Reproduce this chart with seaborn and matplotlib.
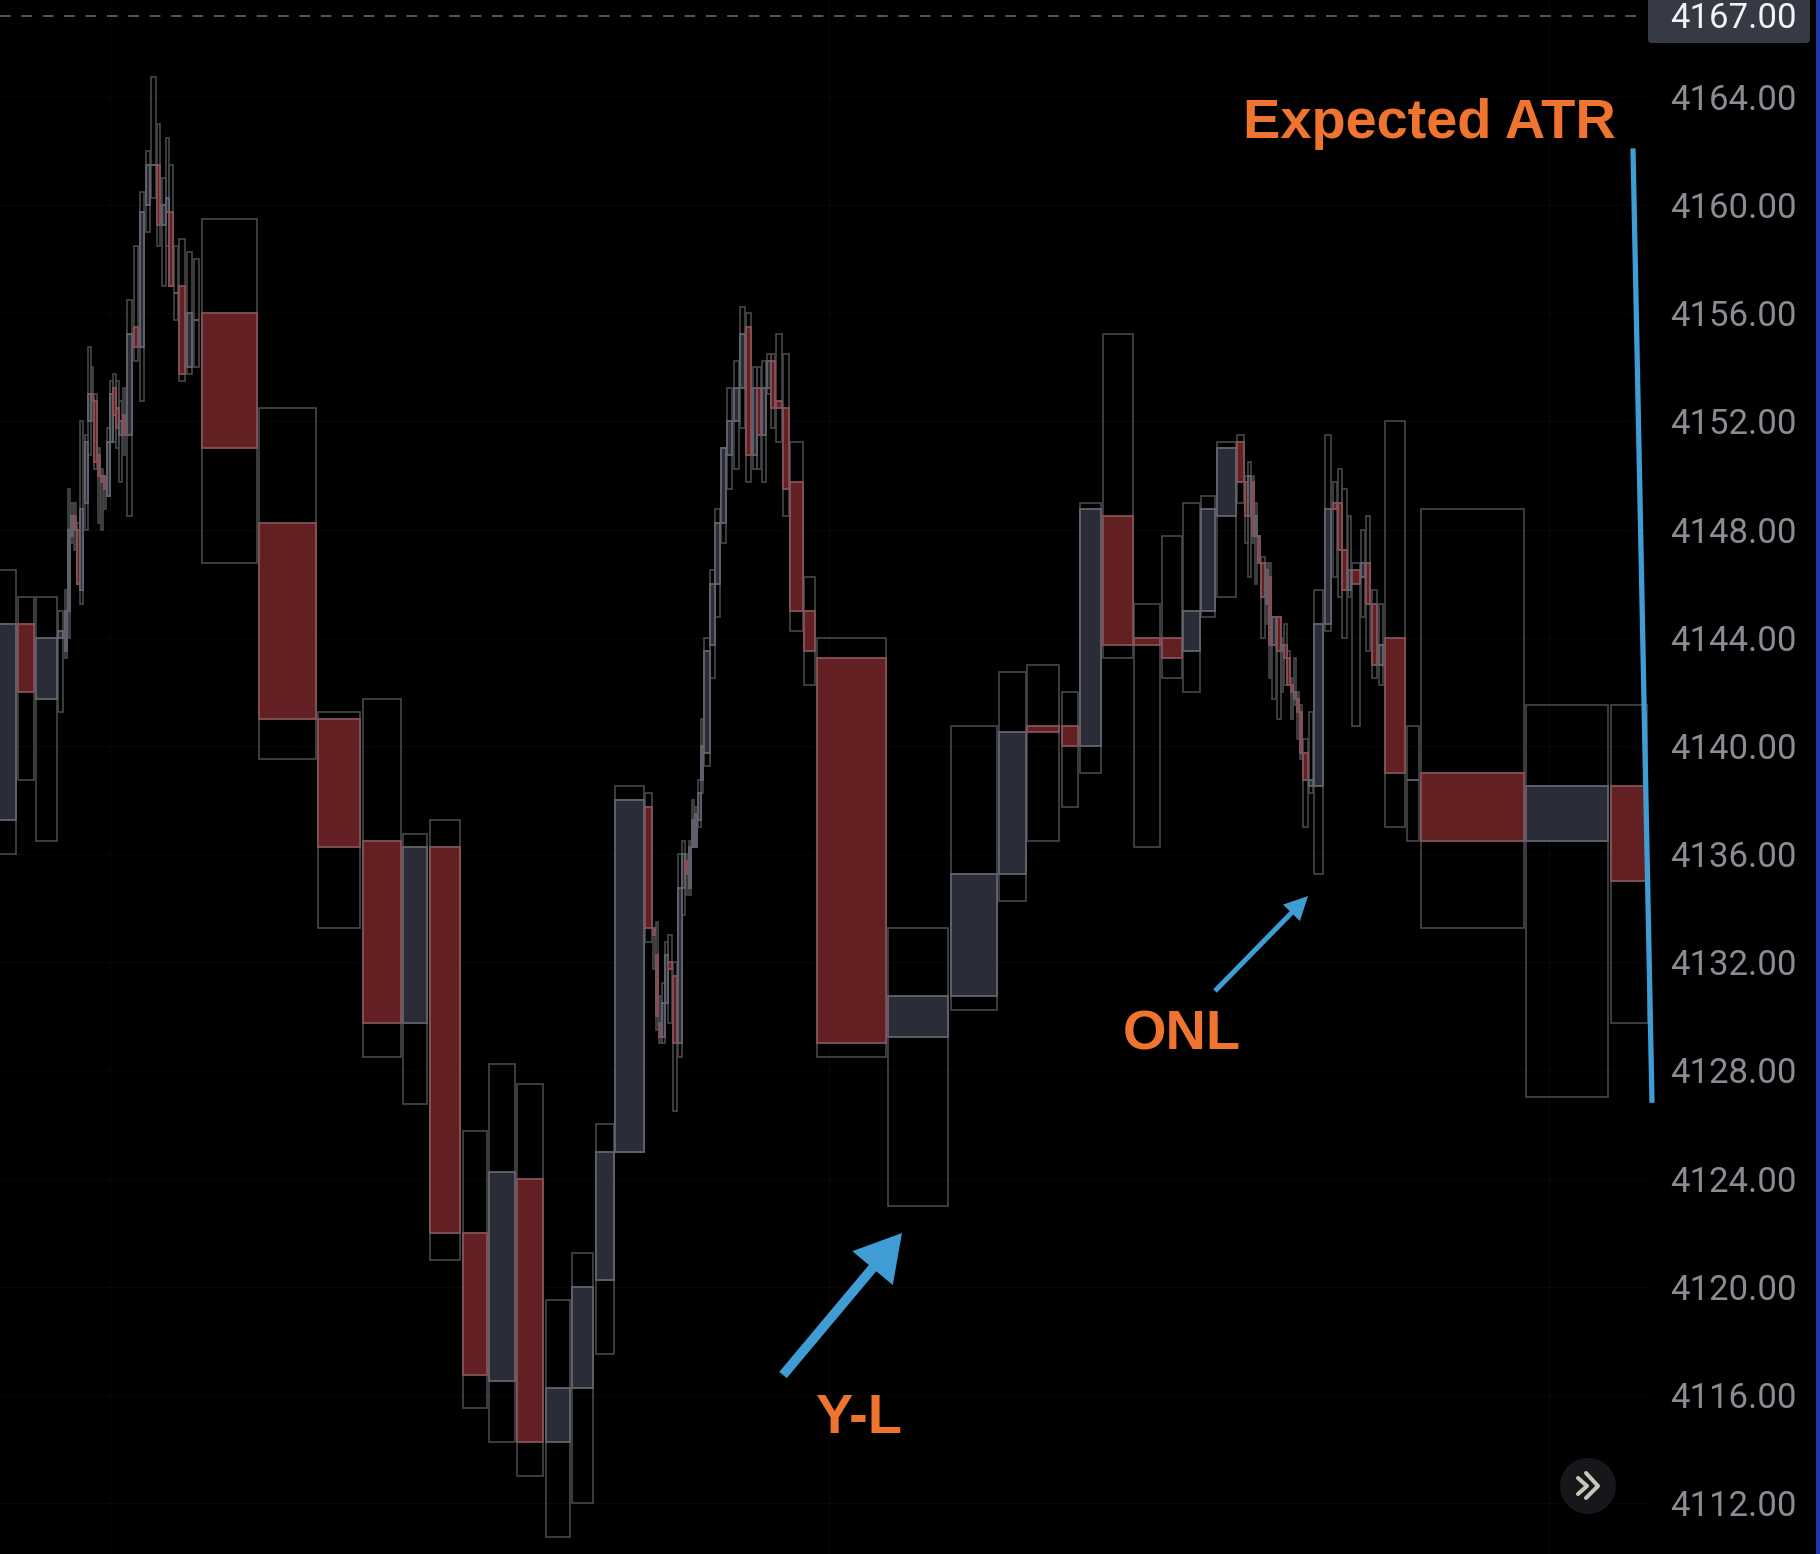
#!/usr/bin/env python
"""
plot.py - volume candle chart of the ES session with ATR / Y-L / ONL notes
usage: python3 plot.py
"""
import matplotlib
matplotlib.use("Agg")
import matplotlib.pyplot as plt
from matplotlib.patches import Circle, FancyArrowPatch, FancyBboxPatch, Rectangle
import numpy as np
import pandas as pd
import seaborn as sns

# Each candle starts at a cumulative volume and is as wide as its own volume
vol_start = [
    -2, 18.3, 35.7, 58.3, 65, 68, 71, 73.7, 77, 80,
    84.7, 88, 90.7, 93.7, 98, 101, 104, 107, 110.3, 113,
    116, 119, 123, 126.7, 134.3, 140.3, 145.7, 151.3, 157, 162,
    166, 169, 174, 179.3, 187.3, 193.7, 201.7, 259.5, 318.3, 362.7,
    402.7, 429.7, 462.7, 488.7, 517.3, 545.7, 571.7, 595.7, 615.3, 645.3,
    653, 656, 659, 662, 665.3, 668, 673, 678, 682, 685,
    689, 692.3, 695, 698.3, 701, 704.3, 710.3, 715.3, 721.3, 726.7,
    734.3, 740.3, 746.3, 753, 757, 762, 767, 771, 776.3, 782.7,
    790.3, 804.3, 817.3, 887.7, 950.7, 998.7, 1026.7, 1061.7, 1080.3, 1103.3,
    1134.3, 1161.7, 1183.3, 1201.3, 1216.7, 1237.3, 1245.3, 1248, 1252, 1255.3,
    1258, 1261, 1266, 1269, 1272.3, 1277, 1281, 1284, 1287, 1291,
    1294, 1297, 1300, 1303.3, 1309.3, 1314.3, 1325.3, 1333, 1337.7, 1342,
    1348, 1352.3, 1361, 1366, 1372, 1378.7, 1384.7, 1406.7, 1420.7, 1525.7,
    1610.7,
]
volume = [
    18.3, 15.4, 21.6, 5, 2, 2, 2.3, 2.3, 2.7, 3.3,
    3, 2.7, 2.6, 3, 1.7, 1.7, 2, 3, 2.4, 2.7,
    2.7, 2.7, 2, 5.6, 4, 4, 4, 4.4, 3.3, 3.7,
    2.7, 4.3, 3.7, 6, 4.4, 5.6, 55.6, 56.5, 41.7, 38.6,
    24.6, 30.6, 24.6, 26.6, 26, 24.6, 21.6, 18.6, 28.4, 6.4,
    2, 1.7, 1.7, 2.7, 2.4, 3.7, 3.7, 3.7, 2.7, 2.3,
    1.7, 1.7, 2, 2.4, 2.3, 5.4, 4.4, 5, 4.4, 5.6,
    4.7, 5, 5, 3.7, 4.3, 3.7, 3.7, 4.3, 5.4, 6.3,
    12.7, 11, 69, 60.6, 46.6, 27, 32.6, 16.6, 21, 30,
    25.4, 20, 16.7, 13.4, 19.3, 6.7, 2.4, 3, 1.7, 1.7,
    2, 3.7, 2, 1.7, 3.7, 3.7, 2, 2.7, 2.7, 1.7,
    1.7, 1.7, 2.3, 5, 3.7, 9, 6, 3.7, 4, 5.3,
    2.7, 7.4, 3.7, 4.3, 5.3, 4.6, 20.6, 12.6, 103.6, 82.6,
    37,
]
high = [
    4146.5, 4145.5, 4145.5, 4145, 4145.75, 4149.5, 4149, 4149, 4148.25, 4152,
    4151.5, 4154.75, 4154, 4153, 4151, 4150.25, 4150, 4151.75, 4153.5, 4153.75,
    4153.5, 4152.75, 4153.25, 4156.5, 4158.5, 4160.5, 4162, 4164.75, 4163, 4161,
    4162.5, 4161.5, 4158.5, 4158.75, 4158.25, 4158, 4159.5, 4152.5, 4141.25, 4141.75,
    4136.75, 4137.25, 4125.75, 4128.25, 4127.5, 4119.5, 4121.25, 4126, 4138.5, 4138.25,
    4133.25, 4133.5, 4130.75, 4131.25, 4132.75, 4133, 4132, 4136, 4136.5, 4136,
    4136.5, 4138, 4137.75, 4138.75, 4141, 4144, 4146.5, 4148.75, 4151, 4153.25,
    4154.25, 4156.25, 4156, 4154, 4154, 4154.25, 4154.5, 4154.5, 4155.25, 4154.5,
    4151.25, 4146.25, 4144, 4133.25, 4140.75, 4142.75, 4143, 4142, 4149, 4155.25,
    4145.25, 4147.75, 4149, 4149.25, 4151.25, 4151.5, 4150, 4150.5, 4150, 4149,
    4147.75, 4147, 4146.75, 4146.75, 4144.75, 4144.75, 4144, 4144.5, 4143.5, 4142.5,
    4143.25, 4142, 4141.5, 4140.25, 4141.25, 4145.75, 4151.5, 4149.75, 4150.25, 4149.5,
    4148.5, 4146.75, 4148, 4148.5, 4145.75, 4145.25, 4152, 4140.75, 4148.75, 4141.5,
    4141.5,
]
body_top = [
    4144.5, 4144.5, 4144, 4144.25, 4145, 4148, 4148.5, 4148.5, 4148, 4148.75,
    4151.25, 4153, 4153, 4152.75, 4150.75, 4150, 4150, 4151.25, 4153, 4153.25,
    4152.5, 4152, 4152.25, 4155.25, 4155.5, 4159.75, 4161.5, 4161.5, 4161.5, 4160,
    4160.25, 4159.75, 4156.75, 4157, 4156, 4155.75, 4156, 4148.25, 4141, 4136.5,
    4136.25, 4136.25, 4122, 4124.25, 4124, 4116.25, 4120, 4125, 4138, 4137.75,
    4133.25, 4132.25, 4129.75, 4130.5, 4132.25, 4132, 4131.5, 4134.75, 4136, 4135.75,
    4136.25, 4137.25, 4137.5, 4138.25, 4140, 4143.5, 4146, 4148.25, 4151, 4152,
    4153.25, 4155.25, 4155.5, 4153.25, 4153.25, 4153.25, 4154.25, 4154.25, 4152.75, 4152.5,
    4149.75, 4145, 4143.25, 4130.75, 4135.25, 4140.5, 4140.75, 4140.75, 4148.75, 4148.5,
    4144, 4144, 4145, 4148.75, 4151, 4151.25, 4149.75, 4150, 4149.75, 4148.5,
    4147.75, 4146.75, 4146.5, 4146.25, 4144.75, 4144.75, 4143.75, 4143.75, 4143.25, 4142.25,
    4142, 4141.75, 4141.25, 4139.75, 4138.75, 4144.5, 4148.75, 4149, 4149, 4147.25,
    4146.5, 4146.5, 4146.75, 4146.75, 4145.25, 4143.75, 4144, 4138.75, 4139, 4138.5,
    4138.5,
]
body_bottom = [
    4137.25, 4142, 4141.75, 4144, 4143.5, 4145, 4147.75, 4148, 4146, 4145.75,
    4149, 4152, 4152.75, 4150.5, 4150, 4149.75, 4149.5, 4149.25, 4151.25, 4152.25,
    4151.75, 4151.5, 4151.5, 4151.5, 4154.75, 4154.75, 4160, 4161.5, 4159.25, 4159.25,
    4159.75, 4157, 4156.75, 4153.75, 4154, 4155.75, 4151, 4141, 4136.25, 4129.75,
    4129.75, 4122, 4116.75, 4116.5, 4114.25, 4114.25, 4116.25, 4120.25, 4125, 4133.25,
    4133, 4130, 4129.25, 4129.25, 4130.5, 4131.75, 4129, 4129, 4134.75, 4135.25,
    4134.75, 4136.25, 4136.25, 4137.25, 4138.75, 4139.75, 4143.75, 4146, 4148.25, 4150.75,
    4152, 4153.25, 4150.75, 4150.75, 4151.5, 4151.5, 4153.25, 4152.5, 4152.5, 4149.5,
    4145, 4143.5, 4129, 4129.25, 4130.75, 4135.25, 4140.5, 4140, 4140, 4143.75,
    4143.75, 4143.25, 4143.5, 4145, 4148.5, 4149.75, 4148.5, 4148.5, 4147.75, 4147.75,
    4146.75, 4145.5, 4145.25, 4143.75, 4143.75, 4143.5, 4143.5, 4143.25, 4142.25, 4142,
    4141.75, 4141.25, 4139.75, 4138.75, 4138.5, 4138.5, 4144.5, 4148.75, 4147.25, 4145.75,
    4145.75, 4146, 4146.25, 4145.25, 4143, 4143, 4139, 4138.75, 4136.5, 4136.5,
    4135,
]
low = [
    4136, 4138.75, 4136.5, 4141.25, 4143.25, 4144, 4147.5, 4147.25, 4146, 4145.25,
    4148, 4150.75, 4152, 4150.25, 4148.25, 4148, 4148.75, 4149.25, 4151.25, 4151.25,
    4151, 4149.75, 4150.75, 4148.5, 4154.25, 4152.75, 4159, 4160.25, 4158.5, 4157,
    4158.5, 4157, 4155.75, 4153.5, 4153.75, 4154, 4146.75, 4139.5, 4133.25, 4128.5,
    4126.75, 4121, 4115.5, 4114.25, 4113, 4110.75, 4112, 4117.5, 4125, 4132.75,
    4131.75, 4129.5, 4129, 4129, 4130.5, 4129.75, 4126.5, 4128.5, 4133.75, 4134.5,
    4134.5, 4136.25, 4136.25, 4137, 4138.25, 4139.25, 4142.5, 4144.75, 4147.5, 4149.5,
    4150.25, 4151.75, 4149.75, 4150.25, 4150.25, 4149.75, 4153, 4151.75, 4151.25, 4148.5,
    4144.25, 4142.25, 4128.5, 4123, 4130.25, 4134.25, 4136.5, 4137.75, 4139, 4143.25,
    4136.25, 4142.5, 4142, 4144.75, 4145.5, 4149, 4147.5, 4146.25, 4147.5, 4146,
    4146.75, 4144, 4144.5, 4142.5, 4141.75, 4141, 4142, 4142.25, 4142.25, 4141,
    4141.5, 4140.25, 4139.5, 4137, 4138.25, 4135.25, 4144.25, 4146.25, 4145.5, 4144,
    4145.5, 4140.75, 4144.75, 4143.5, 4142.5, 4142.25, 4137, 4136.5, 4133.25, 4127,
    4129.75,
]
# 1 = falling candle (red), 0 = rising candle (slate)
falling = [
    0, 1, 0, 0, 0, 0, 0, 1, 1, 0,
    0, 0, 1, 1, 1, 1, 1, 0, 0, 1,
    1, 0, 1, 0, 1, 0, 0, 0, 1, 0,
    0, 1, 0, 1, 0, 0, 1, 1, 1, 1,
    0, 1, 1, 0, 1, 0, 0, 0, 0, 1,
    1, 1, 1, 0, 0, 1, 1, 0, 0, 1,
    0, 0, 0, 0, 0, 0, 0, 0, 0, 0,
    0, 0, 1, 0, 1, 0, 0, 1, 1, 1,
    1, 1, 1, 0, 0, 0, 1, 1, 0, 1,
    1, 1, 0, 0, 0, 1, 1, 0, 1, 0,
    1, 1, 0, 1, 0, 1, 0, 1, 1, 1,
    0, 1, 1, 1, 0, 0, 0, 1, 1, 1,
    0, 1, 0, 1, 1, 0, 1, 0, 1, 0,
    1,
]

price_ticks = [4164, 4160, 4156, 4152, 4148, 4144, 4140, 4136, 4132, 4128, 4124, 4120, 4116, 4112]
last_price = 4167.00
atr_volume = [1633, 1652]
atr_price = [4162.1, 4126.8]
time_grid = [110, 829, 1549]

FIG_W, FIG_H = 1820, 1554
PLOT_W = 1648
PRICE_TOP = 4164 + 97 / 27.04
PRICE_BOTTOM = 4112 - 51 / 27.04

BG = "#000000"
WICK = "#46474a"
RED_FILL, RED_EDGE = "#622023", "#85545a"
SLATE_FILL, SLATE_EDGE = "#2a2d38", "#63656e"
BLUE = "#3f9dd3"
ORANGE = "#ef7430"
TICK = "#8a8c93"


def draw_candles(ax, df):
    ax.bar(df["start"], df["high"] - df["low"], width=df["volume"], bottom=df["low"],
           align="edge", facecolor="none", edgecolor=WICK, linewidth=1.2, zorder=2)
    fills = np.where(df["falling"] == 1, RED_FILL, SLATE_FILL)
    edges = np.where(df["falling"] == 1, RED_EDGE, SLATE_EDGE)
    ax.bar(df["start"], df["top"] - df["bottom"], width=df["volume"], bottom=df["bottom"],
           align="edge", color=fills, edgecolor=edges, linewidth=1.3, zorder=3)


def draw_chrome(fig):
    """Pixel space overlay: price tag, scroll button, window edge, notes."""
    ui = fig.add_axes([0, 0, 1, 1], facecolor="none")
    ui.set_xlim(0, FIG_W)
    ui.set_ylim(FIG_H, 0)
    ui.axis("off")

    ui.plot([0, 1636], [16, 16], color="#6b6e78", lw=1.1, dashes=(7, 7), zorder=1)
    ui.add_patch(FancyBboxPatch((1648, -12), 162, 55, boxstyle="round,pad=0,rounding_size=4",
                                facecolor="#363a45", edgecolor="none"))
    ui.text(1670, 18, f"{last_price:.2f}", color="#f2f3f5", fontsize=25, family="Roboto",
            va="center", ha="left")
    ui.add_patch(Rectangle((1816, 0), 4, FIG_H, facecolor="#2138a8", edgecolor="none"))

    ui.add_patch(Circle((1588, 1486), 28, facecolor="#15171b", edgecolor="none"))
    ui.plot([1578, 1587, 1578], [1478, 1486, 1494], color="#c9c5b8", lw=2.9, solid_capstyle="round")
    ui.plot([1586, 1598, 1586], [1473, 1486, 1498], color="#c9c5b8", lw=2.9, solid_capstyle="round")

    note = dict(color=ORANGE, fontsize=40.3, fontweight="bold", family="Liberation Sans",
                ha="left", va="baseline")
    ui.text(1243, 138, "Expected ATR", **note)
    ui.text(815, 1433, "Y-L", **note)
    ui.text(1123, 1049, "ONL", **note)

    ui.add_patch(FancyArrowPatch((783, 1375), (902, 1233), shrinkA=0, shrinkB=0, mutation_scale=1,
                                 arrowstyle="simple,head_length=33,head_width=38,tail_width=7",
                                 facecolor=BLUE, edgecolor="none"))
    ui.add_patch(FancyArrowPatch((1215, 991), (1308, 896), shrinkA=0, shrinkB=0, mutation_scale=1,
                                 arrowstyle="simple,head_length=17,head_width=17,tail_width=3.6",
                                 facecolor=BLUE, edgecolor="none"))


def main():
    sns.set_theme(style="dark", rc={"axes.facecolor": BG, "figure.facecolor": BG})
    plt.rcParams["font.family"] = ["Roboto", "DejaVu Sans"]

    df = pd.DataFrame(dict(start=vol_start, volume=volume, high=high, top=body_top,
                           bottom=body_bottom, low=low, falling=falling))

    fig = plt.figure(figsize=(FIG_W / 100, FIG_H / 100), dpi=100)
    ax = fig.add_axes([0, 0, PLOT_W / FIG_W, 1])
    draw_candles(ax, df)

    atr = sns.lineplot(x=atr_volume, y=atr_price, ax=ax, color=BLUE, linewidth=3.8,
                       estimator=None, sort=False, zorder=5)
    atr.lines[-1].set_clip_on(False)
    atr.lines[-1].set_solid_capstyle("butt")

    ax.set_xlim(0, PLOT_W)
    ax.set_ylim(PRICE_BOTTOM, PRICE_TOP)
    ax.set_xticks(time_grid)
    ax.set_yticks(price_ticks)
    ax.set_xticklabels([])
    ax.set_yticklabels([f"{p:.2f}" for p in price_ticks])
    ax.yaxis.tick_right()
    ax.tick_params(axis="x", length=0)
    ax.tick_params(axis="y", length=0, pad=15.8, labelcolor=TICK, labelsize=25)
    ax.grid(True, color="#070807", linewidth=0.8)
    ax.set_axisbelow(True)
    ax.set_xlabel("")
    ax.set_ylabel("")
    sns.despine(ax=ax, left=True, bottom=True, right=True, top=True)

    draw_chrome(fig)
    fig.savefig("out.png", dpi=100, facecolor=BG)


if __name__ == "__main__":
    main()
